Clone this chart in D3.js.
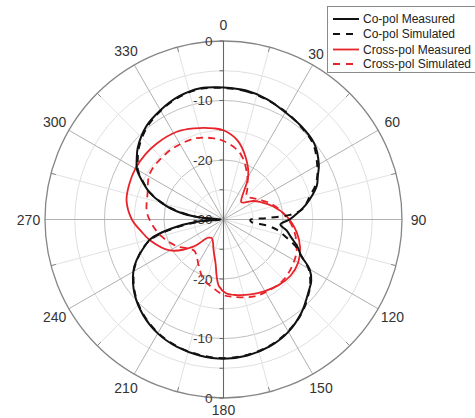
<!DOCTYPE html>
<html>
<head>
<meta charset="utf-8">
<script src="https://cdn.jsdelivr.net/npm/d3@7"></script>
<style>
  html, body { margin: 0; padding: 0; background: #fff; }
  svg { display: block; font-family: "Liberation Sans", Arial, sans-serif; }
</style>
</head>
<body>
<svg id="chart" width="475" height="418"></svg>
<script>
// ---- data (angles in degrees, values in dB) ----
const angleTicks = [0, 30, 60, 90, 120, 150, 180, 210, 240, 270, 300, 330];
const radialTicksTop = [0, -10, -20, -30];
const radialTicksBottom = [-20, -10, 0];

const coMeasAng = [0,10,20,30,40,50,60,65,70,75,80,85,90,95,100,105,110,115,120,125,130,140,150,160,170,180,190,200,210,220,230,240,245,250,255,260,265,270,275,280,285,290,295,300,305,310,320,330,340,350];
const coMeasVal = [-7.8,-8.0,-8.5,-9.2,-9.6,-10.1,-11.5,-12.5,-13.3,-14.6,-16.0,-17.5,-18.9,-20.4,-19.2,-18.2,-16.8,-15.6,-13.3,-12.0,-11.3,-9.6,-8.2,-7.3,-6.8,-6.6,-6.8,-7.2,-7.9,-9.0,-10.5,-12.5,-13.9,-15.6,-17.3,-21.0,-25.5,-29.5,-25.8,-22.0,-19.2,-16.8,-15.0,-13.2,-12.2,-11.2,-9.7,-8.8,-8.0,-7.6];

const coSimAng = [0,10,20,30,40,50,60,65,70,75,80,83,86,88,91,95,98,101,106,110,115,120,125,130,140,150,160,170,180,190,200,210,220,230,240,245,250,255,260,265,270,275,280,285,290,295,300,305,310,320,330,340,350];
const coSimVal = [-7.9,-8.1,-8.6,-9.1,-9.7,-10.3,-11.8,-12.6,-13.6,-15.0,-16.0,-16.8,-18.8,-22.5,-25.5,-25.3,-22.5,-20.8,-19.0,-17.2,-15.6,-13.5,-12.2,-11.2,-9.5,-8.3,-7.4,-6.9,-6.7,-6.9,-7.3,-8.0,-9.1,-10.6,-12.6,-14.0,-15.5,-17.5,-21.5,-26.0,-29.5,-26.0,-22.3,-19.4,-16.9,-15.1,-13.4,-12.4,-11.4,-9.9,-8.9,-8.1,-7.7];

const crMeasAng = [0,10,20,30,37,45,50,57,64,75,87,100,110,120,130,140,150,160,170,178,184,187,190,198,205,212,220,228,240,254,262,270,281,290,300,310,319,332,342,354];
const crMeasVal = [-15.0,-16.5,-19.0,-21.7,-24.5,-25.8,-25.6,-24.3,-23.2,-21.4,-19.4,-17.5,-16.3,-15.5,-15.3,-15.6,-16.1,-16.6,-17.1,-17.6,-18.8,-20.5,-22.4,-24.6,-25.8,-26.3,-26.0,-23.2,-19.6,-17.2,-16.0,-14.6,-13.4,-13.1,-12.9,-12.9,-13.0,-13.3,-13.9,-14.6];

const crSimAng = [0,14,27,38,45,55,62,72,84,98,115,135,150,159,173,180,189,198,205,215,222,228,240,250,260,275,289,302,319,330,342,352];
const crSimVal = [-16.8,-18.5,-21.3,-23.5,-24.5,-23.8,-23.0,-21.5,-19.9,-18.1,-16.5,-15.7,-15.9,-16.1,-16.9,-17.3,-18.4,-19.3,-20.6,-22.2,-22.8,-22.6,-21.0,-19.8,-18.6,-17.1,-16.5,-15.4,-15.3,-15.4,-15.6,-16.2];

const seriesNames = ["Co-pol Measured", "Co-pol Simulated", "Cross-pol Measured", "Cross-pol Simulated"];

// ---- layout ----
const cx = 223.5, cy = 219.5, R = 178.5;
const RED = "#e8232a";
const styles = [
  { color: "#111", dash: null, width: 2.0 },
  { color: "#111", dash: "7,6", width: 2.0 },
  { color: RED, dash: null, width: 1.8 },
  { color: RED, dash: "7,5", width: 1.8 }
];
const seriesData = [
  [coMeasAng, coMeasVal],
  [coSimAng, coSimVal],
  [crMeasAng, crMeasVal],
  [crSimAng, crSimVal]
];

const svg = d3.select("#chart");
const g = svg.append("g").attr("transform", `translate(${cx},${cy})`);

const r = d3.scaleLinear().domain([-30, 0]).range([0, R]).clamp(true);
const toRad = d => d * Math.PI / 180;

// grid circles
const minorLevels = [-5, -15, -25];
const majorLevels = [-10, -20];
g.selectAll("circle.minor").data(minorLevels).join("circle")
  .attr("r", d => r(d)).attr("fill", "none").attr("stroke", "#e0e0e0").attr("stroke-width", 1);
g.selectAll("circle.major").data(majorLevels).join("circle")
  .attr("r", d => r(d)).attr("fill", "none").attr("stroke", "#c0c0c0").attr("stroke-width", 1);

// minor spokes (15 deg offsets)
const minorSpokes = d3.range(15, 360, 30);
g.selectAll("line.mspoke").data(minorSpokes).join("line")
  .attr("x1", 0).attr("y1", 0)
  .attr("x2", d => R * Math.sin(toRad(d))).attr("y2", d => -R * Math.cos(toRad(d)))
  .attr("stroke", "#e2e2e2").attr("stroke-width", 1);
g.selectAll("line.otick").data(minorSpokes).join("line")
  .attr("x1", d => (R - 5) * Math.sin(toRad(d))).attr("y1", d => -(R - 5) * Math.cos(toRad(d)))
  .attr("x2", d => R * Math.sin(toRad(d))).attr("y2", d => -R * Math.cos(toRad(d)))
  .attr("stroke", "#888").attr("stroke-width", 1);

// major spokes
g.selectAll("line.spoke").data(angleTicks.filter(a => a % 180 !== 0)).join("line")
  .attr("x1", 0).attr("y1", 0)
  .attr("x2", d => R * Math.sin(toRad(d))).attr("y2", d => -R * Math.cos(toRad(d)))
  .attr("stroke", "#b0b0b0").attr("stroke-width", 1);

// outer circle
g.append("circle").attr("r", R).attr("fill", "none").attr("stroke", "#858585").attr("stroke-width", 1.3);

// radial axis (vertical)
g.append("line").attr("x1", 0).attr("x2", 0).attr("y1", -R).attr("y2", R)
  .attr("stroke", "#666").attr("stroke-width", 1.1);
const axisTicks = d3.range(-25, 1, 5);
[-1, 1].forEach(s => {
  g.selectAll(null).data(axisTicks).join("line")
    .attr("x1", -4).attr("x2", 0)
    .attr("y1", d => s * r(d)).attr("y2", d => s * r(d))
    .attr("stroke", "#666").attr("stroke-width", 1);
});

// radial labels
const rlab = g.append("g").attr("font-size", 13.5).attr("fill", "#3a3a3a").attr("text-anchor", "end");
rlab.selectAll("text.t").data(radialTicksTop).join("text")
  .attr("x", -11).attr("y", d => -r(d)).attr("dy", "0.36em").text(d => d);
rlab.selectAll("text.b").data(radialTicksBottom).join("text")
  .attr("x", -11).attr("y", d => r(d)).attr("dy", "0.36em").text(d => d);

// curves
const line = d3.lineRadial()
  .angle(d => toRad(d[0]))
  .radius(d => r(d[1]))
  .curve(d3.curveCatmullRomClosed.alpha(0.5));

[3, 2, 1, 0].forEach(i => {
  const [angs, vals] = seriesData[i];
  const pts = angs.map((a, k) => [a, vals[k]]);
  g.append("path")
    .attr("d", line(pts))
    .attr("fill", "none")
    .attr("stroke", styles[i].color)
    .attr("stroke-width", styles[i].width)
    .attr("stroke-dasharray", styles[i].dash)
    .attr("stroke-linejoin", "round");
});

// legend
const lg = svg.append("g");
lg.append("rect").attr("x", 327.5).attr("y", 6.5).attr("width", 160).attr("height", 66)
  .attr("fill", "#fff").attr("stroke", "#8a8a8a").attr("stroke-width", 1);
const rows = [19, 34, 49.5, 64];
seriesNames.forEach((name, i) => {
  lg.append("line").attr("x1", 333).attr("x2", 359).attr("y1", rows[i]).attr("y2", rows[i])
    .attr("stroke", styles[i].color).attr("stroke-width", styles[i].width)
    .attr("stroke-dasharray", styles[i].dash ? "7,6" : null);
  lg.append("text").attr("x", 363).attr("y", rows[i]).attr("dy", "0.36em")
    .attr("font-size", 12).attr("fill", "#222").text(name);
});

// angle labels (drawn last so they sit above the legend box)
const alabR = d => (d === 180 ? 190.5 : (d === 30 ? 191 : 195));
svg.append("g").attr("transform", `translate(${cx},${cy})`)
  .attr("font-size", 14).attr("fill", "#333").attr("text-anchor", "middle")
  .selectAll("text").data(angleTicks).join("text")
  .attr("x", d => alabR(d) * Math.sin(toRad(d)) - (d === 30 ? 3 : 0))
  .attr("y", d => -alabR(d) * Math.cos(toRad(d)))
  .attr("dy", "0.36em")
  .text(d => d);
</script>
</body>
</html>
